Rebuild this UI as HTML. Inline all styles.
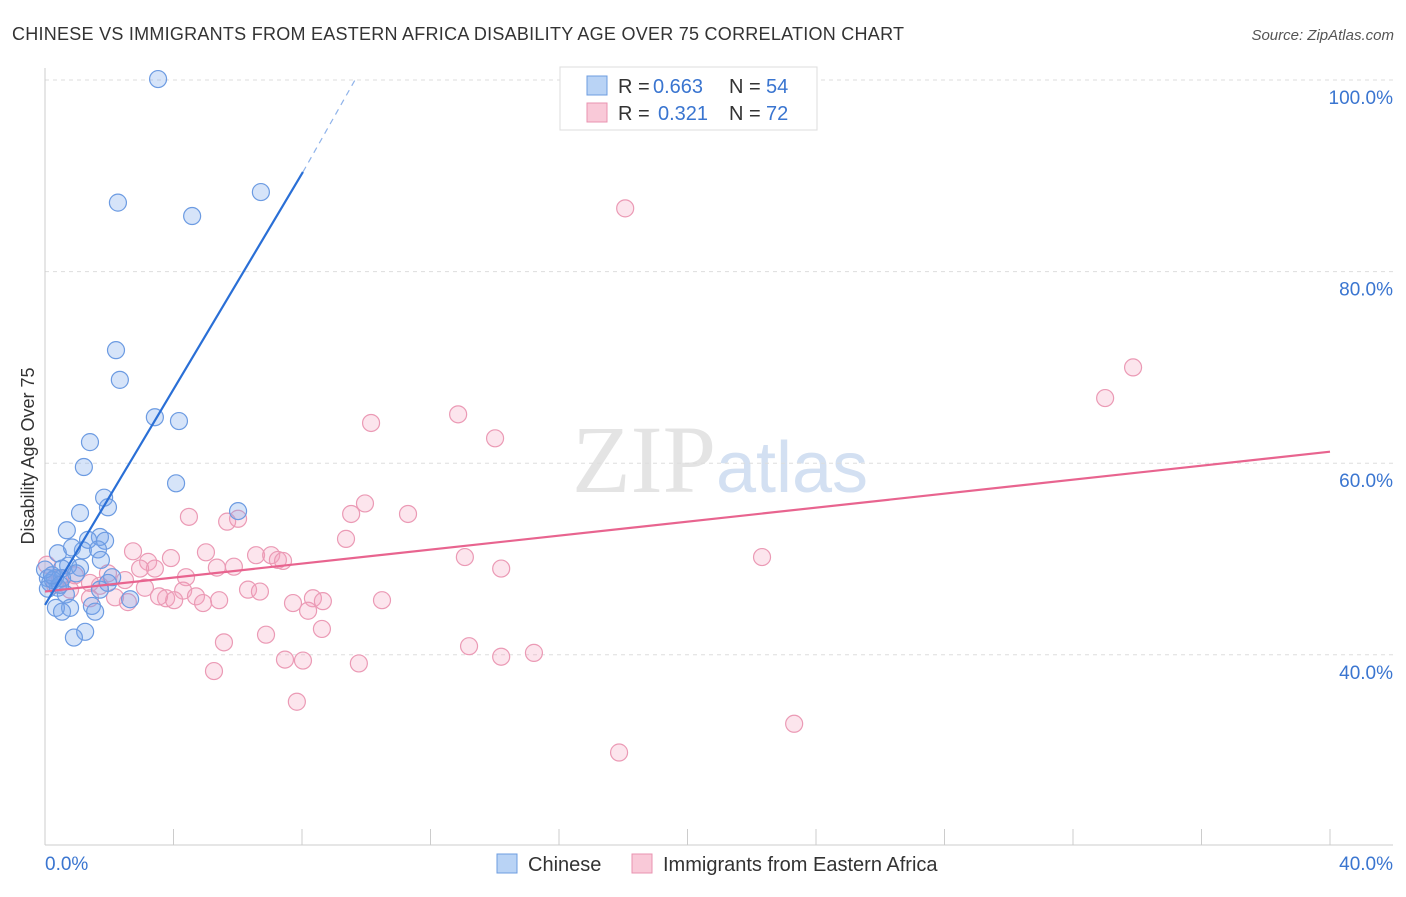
<!DOCTYPE html>
<html><head><meta charset="utf-8"><style>
body{margin:0;background:#fff;font-family:"Liberation Sans",sans-serif;}
</style></head><body>
<svg id="chart" width="1406" height="892" viewBox="0 0 1406 892" xmlns="http://www.w3.org/2000/svg">
<text x="12" y="40" font-size="18" fill="#333" textLength="892" lengthAdjust="spacing">CHINESE VS IMMIGRANTS FROM EASTERN AFRICA DISABILITY AGE OVER 75 CORRELATION CHART</text>
<text x="1394" y="40" font-size="15" fill="#555" font-style="italic" text-anchor="end">Source: ZipAtlas.com</text>
<text x="720" y="492" font-size="96" fill="#e4e4e4" text-anchor="middle" font-family="Liberation Serif,serif">ZIP<tspan fill="#d3e0f2" font-family="Liberation Sans,sans-serif" font-size="72">atlas</tspan></text>
<g id="grid"></g><g id="axes"></g><g id="marks"></g>
<text transform="translate(34,456) rotate(-90)" font-size="18" fill="#333" text-anchor="middle">Disability Age Over 75</text>
<g font-size="20">
<rect x="560" y="67" width="257" height="63" fill="#fff" stroke="#ddd"/>
<rect x="587" y="76" width="20" height="19" fill="#b9d3f5" stroke="#6d9de0"/>
<text x="618" y="93" fill="#333">R =</text>
<text x="653" y="93" fill="#3a75d0">0.663</text>
<text x="729" y="93" fill="#333">N =</text>
<text x="766" y="93" fill="#3a75d0">54</text>
<rect x="587" y="103" width="20" height="19" fill="#f9c9d8" stroke="#e993b0"/>
<text x="618" y="120" fill="#333">R =</text>
<text x="658" y="120" fill="#3a75d0">0.321</text>
<text x="729" y="120" fill="#333">N =</text>
<text x="766" y="120" fill="#3a75d0">72</text>
</g>
<g>
<rect x="497" y="854" width="20" height="19" fill="#b9d3f5" stroke="#6d9de0"/>
<text x="528" y="871" font-size="20" fill="#333">Chinese</text>
<rect x="632" y="854" width="20" height="19" fill="#f9c9d8" stroke="#e993b0"/>
<text x="663" y="871" font-size="20" fill="#333">Immigrants from Eastern Africa</text>
</g>
</svg>
<script>
const blueX=[3.52,2.27,4.58,6.72,2.21,2.33,3.42,4.17,1.40,1.21,4.08,1.84,1.96,6.01,1.09,0.68,1.71,1.34,1.87,1.18,1.65,0.40,0.84,1.74,0.72,1.09,0.53,0.97,0.09,0.31,0.53,2.09,1.96,0.16,0.40,0.65,1.71,0.09,2.65,1.46,0.78,1.56,0.34,0.53,1.25,0.90,0.25,0.47,0.00,0.22];
const blueY=[100.1,87.2,85.8,88.3,71.8,68.7,64.8,64.4,62.2,59.6,57.9,56.4,55.4,55.0,54.8,53.0,52.3,52.0,51.9,50.9,51.0,50.6,51.2,49.9,49.3,49.1,49.0,48.5,48.0,48.0,48.0,48.1,47.5,47.5,47.0,46.3,46.8,46.9,45.8,45.1,44.9,44.5,44.9,44.5,42.4,41.8,47.8,47.3,48.9,48.3];
const pinkX=[18.06,33.87,33.00,10.15,12.86,14.01,9.96,4.48,9.53,11.30,5.67,6.01,9.37,2.74,5.01,6.57,7.04,7.25,7.41,13.07,3.92,3.21,3.42,2.96,5.35,5.88,14.20,22.32,4.39,1.96,2.49,0.93,0.47,1.40,3.11,1.71,6.32,6.69,4.30,3.77,4.70,5.42,4.02,3.55,4.92,2.58,2.18,7.72,8.34,8.65,10.49,8.19,1.40,0.31,0.06,0.78,8.62,6.88,5.57,13.20,15.22,14.20,7.47,8.03,9.77,5.26,7.84,23.32,17.87];
const pinkY=[86.6,70.0,66.8,64.2,65.1,62.6,55.8,54.4,54.7,54.7,53.9,54.2,52.1,50.8,50.7,50.4,50.4,49.9,49.8,50.2,50.1,49.7,49.0,49.0,49.1,49.2,49.0,50.2,48.1,48.5,47.8,48.3,48.0,47.5,47.0,47.2,46.8,46.6,46.7,45.9,46.1,45.7,45.7,46.1,45.4,45.5,46.0,45.4,45.9,45.6,45.7,44.6,45.9,47.3,49.4,46.8,42.7,42.1,41.3,40.9,40.2,39.8,39.5,39.4,39.1,38.3,35.1,32.8,29.8];
const blueTrendX=[0,8.03];
const blueTrendY=[45.2,90.4];
const blueDashX=[8.03,9.65];
const blueDashY=[90.4,100.0];
const pinkTrendX=[0,40];
const pinkTrendY=[46.6,61.2];
const yTicks=[100,80,60,40];
const yTickLabels=["100.0%","80.0%","60.0%","40.0%"];
const xTicks=[0,4,8,12,16,20,24,28,32,36,40];

const NS="http://www.w3.org/2000/svg";
const X=v=>45+v/40*1285;
const Y=v=>80+(100-v)*9.58;
function mk(tag,attrs,parent){const e=document.createElementNS(NS,tag);for(const k in attrs)e.setAttribute(k,attrs[k]);parent.appendChild(e);return e;}
const grid=document.getElementById('grid'),axes=document.getElementById('axes'),marks=document.getElementById('marks');
yTicks.forEach((t,i)=>{
  const l=mk('line',{x1:45,x2:1393,y1:Y(t),y2:Y(t),stroke:'#ddd','stroke-dasharray':'4,4'},grid);
  
  
  const tx=mk('text',{x:1393,y:Y(t)+24,'font-size':19,fill:'#3a75d0','text-anchor':'end'},axes);
  tx.textContent=yTickLabels[i];
  
  
});
const xa=mk('line',{x1:45,x2:1393,y1:845,y2:845,stroke:'#ccc'},axes);


const ya=mk('line',{x1:45,x2:45,y1:68,y2:845,stroke:'#ccc'},axes);


xTicks.forEach(t=>{
  const l=mk('line',{x1:X(t),x2:X(t),y1:829,y2:845,stroke:'#ccc'},axes);
  
  
});
const xl0=mk('text',{x:45,y:870,'font-size':19,fill:'#3a75d0'},axes);xl0.textContent=xTicks[0].toFixed(1)+'%';


const xl1=mk('text',{x:1393,y:870,'font-size':19,fill:'#3a75d0','text-anchor':'end'},axes);xl1.textContent=xTicks[xTicks.length-1].toFixed(1)+'%';



pinkX.forEach((v,i)=>{
  const c=mk('circle',{cx:X(v),cy:Y(pinkY[i]),r:8.5,fill:'rgba(243,160,190,0.28)',stroke:'#eb9ab5','stroke-width':1.2},marks);
  
  
});
blueX.forEach((v,i)=>{
  const c=mk('circle',{cx:X(v),cy:Y(blueY[i]),r:8.5,fill:'rgba(120,165,235,0.3)',stroke:'#6c9be2','stroke-width':1.2},marks);
  
  
});
const pl=mk('line',{x1:X(pinkTrendX[0]),y1:Y(pinkTrendY[0]),x2:X(pinkTrendX[1]),y2:Y(pinkTrendY[1]),stroke:'#e8648f','stroke-width':2.2},marks);


const bl=mk('line',{x1:X(blueTrendX[0]),y1:Y(blueTrendY[0]),x2:X(blueTrendX[1]),y2:Y(blueTrendY[1]),stroke:'#2a6fd6','stroke-width':2.2},marks);


const bd=mk('line',{x1:X(blueDashX[0]),y1:Y(blueDashY[0]),x2:X(blueDashX[1]),y2:Y(blueDashY[1]),stroke:'#8fb3ea','stroke-width':1.2,'stroke-dasharray':'6,5'},marks);


</script>
</body></html>
